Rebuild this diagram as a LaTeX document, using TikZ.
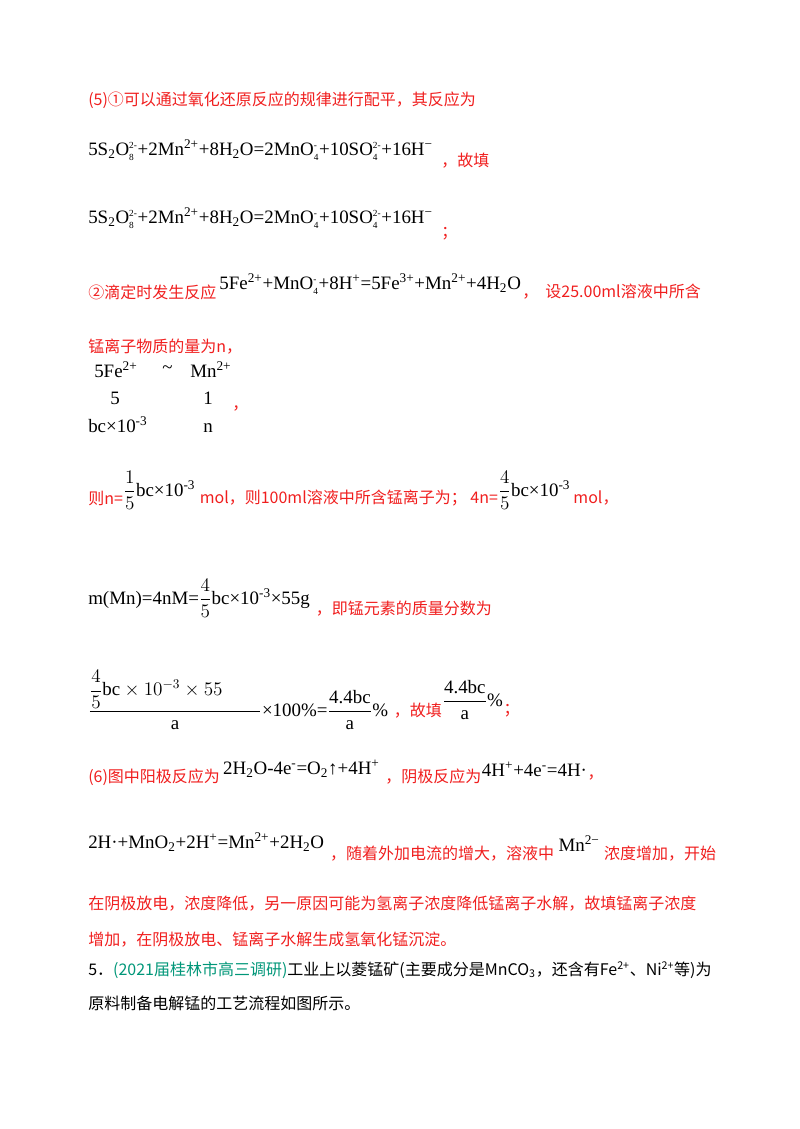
\documentclass[tikz,border=0pt]{standalone}
\usepackage{amsmath}
\usepackage{fontspec}
\setmainfont{Liberation Serif}
\newfontfamily\cjk{Noto Sans CJK SC}
\definecolor{rd}{RGB}{240,30,30}
\definecolor{tl}{RGB}{0,150,120}
\newcommand{\up}[1]{\textsuperscript{#1}}
\newcommand{\dn}[1]{\textsubscript{#1}}
\newcommand{\ud}[2]{\ensuremath{^{\text{\scriptsize #1}}_{\text{\scriptsize #2}}}}
\begin{document}
\begin{tikzpicture}[x=0.75pt,y=-0.75pt,
  eq/.style={anchor=west,inner sep=0pt,font=\fontsize{14.2}{16}\selectfont},
  rt/.style={anchor=west,inner sep=0pt,text=rd,font=\cjk\fontsize{12}{15}\selectfont},
  bt/.style={anchor=west,inner sep=0pt,font=\cjk\fontsize{12}{15}\selectfont}]
\useasboundingbox (0,0) rectangle (800,1129);
\node[rt] (l1) at (88,100) {(5)①可以通过氧化还原反应的规律进行配平，其反应为};
\node[eq] (e1) at (88,150) {5S\dn{2}O\ud{2-}{8}+2Mn\up{2+}+8H\dn{2}O=2MnO\ud{-}{4}+10SO\ud{2-}{4}+16H\up{−}};
\node[rt] (t1) at ([xshift=6pt,yshift=-8pt]e1.east) {，故填};
\node[eq] (e2) at (88,218) {5S\dn{2}O\ud{2-}{8}+2Mn\up{2+}+8H\dn{2}O=2MnO\ud{-}{4}+10SO\ud{2-}{4}+16H\up{−}};
\node[rt] (t2) at ([xshift=6pt,yshift=-12pt]e2.east) {；};
\node[rt] (l3) at (88,292) {②滴定时发生反应};
\node[eq] (e3) at ([xshift=2pt,yshift=6pt]l3.east) {5Fe\up{2+}+MnO\ud{-}{4}+8H\up{+}=5Fe\up{3+}+Mn\up{2+}+4H\dn{2}O};
\node[rt] (t3) at (522,292) {，\ \ 设25.00ml溶液中所含};
\node[rt] (l4) at (88,347) {锰离子物质的量为n，};
\node[eq] (a1) at (94,370) {5Fe\up{2+}};
\node[eq] (a2) at (162,370) {\textasciitilde};
\node[eq] (a3) at (190,370) {Mn\up{2+}};
\node[eq] (b1) at (110,398) {5};
\node[eq] (b2) at (203,398) {1};
\node[rt] (b3) at (232,408) {，};
\node[eq] (c1) at (88,425) {bc×10\up{-3}};
\node[eq] (c2) at (203,428) {n};
\node[rt] (l5a) at (88,498) {则n=};
\node[eq] (f1) at ([yshift=6pt]l5a.east) {$\dfrac{1}{5}$bc×10\up{-3}};
\node[rt] (l5b) at ([xshift=3pt,yshift=-6pt]f1.east) {mol，则100ml溶液中所含锰离子为；\ 4n=};
\node[eq] (f2) at ([yshift=6pt]l5b.east) {$\dfrac{4}{5}$bc×10\up{-3}};
\node[rt] (l5c) at ([xshift=2pt,yshift=-6pt]f2.east) {mol，};
\node[eq] (m1) at (88,598) {m(Mn)=4nM=$\dfrac{4}{5}$bc×10\up{-3}×55g};
\node[rt] (m2) at ([xshift=4pt,yshift=-8pt]m1.east) {，即锰元素的质量分数为};
\node[eq] (p1) at (88,700) {$\dfrac{\dfrac{4}{5}\text{bc}\times10^{-3}\times55\qquad}{\text{a}}$×100\%=$\dfrac{\text{4.4bc}}{\text{a}}$\%};
\node[rt] (p2) at ([xshift=4pt,yshift=-8pt]p1.east) {，故填};
\node[eq] (p3) at ([yshift=8pt]p2.east) {$\dfrac{\text{4.4bc}}{\text{a}}$\%};
\node[rt] (p4) at ([yshift=-8pt]p3.east) {；};
\node[rt] (q1) at (88,777) {(6)图中阳极反应为};
\node[eq] (q2) at ([xshift=2pt,yshift=6pt]q1.east) {2H\dn{2}O-4e\up{-}=O\dn{2}↑+4H\up{+}};
\node[rt] (q3) at ([xshift=4pt,yshift=-6pt]q2.east) {，阴极反应为};
\node[eq] (q4) at ([yshift=6pt]q3.east) {4H\up{+}+4e\up{-}=4H·};
\node[rt] (q5) at ([yshift=-6pt]q4.east) {，};
\node[eq] (r1) at (88,842) {2H·+MnO\dn{2}+2H\up{+}=Mn\up{2+}+2H\dn{2}O};
\node[rt] (r2) at ([xshift=4pt,yshift=-9pt]r1.east) {，随着外加电流的增大，溶液中};
\node[eq] (r3) at ([xshift=3pt,yshift=8pt]r2.east) {Mn\up{2−}};
\node[rt] (r4) at ([xshift=3pt,yshift=-8pt]r3.east) {浓度增加，开始};
\node[rt] (s1) at (88,904) {在阴极放电，浓度降低，另一原因可能为氢离子浓度降低锰离子水解，故填锰离子浓度};
\node[rt] (s2) at (88,940) {增加，在阴极放电、锰离子水解生成氢氧化锰沉淀。};
\node[bt] (u1) at (88,970) {5．\textcolor{tl}{(2021届桂林市高三调研)}工业上以菱锰矿(主要成分是MnCO\dn{3}，还含有Fe\up{2+}、Ni\up{2+}等)为};
\node[bt] (u2) at (88,1003) {原料制备电解锰的工艺流程如图所示。};
\end{tikzpicture}
\end{document}
